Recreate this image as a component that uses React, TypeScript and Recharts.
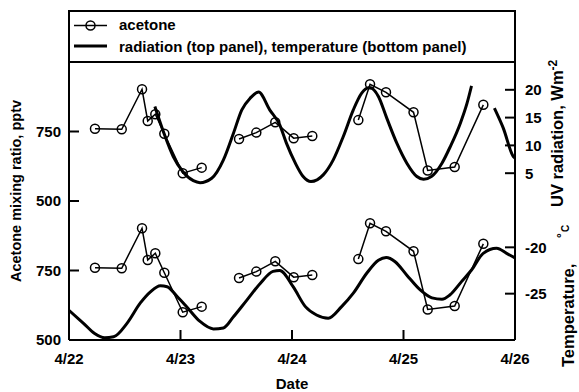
import React from 'react';
import { LineChart, Line, XAxis, YAxis } from 'recharts';

// ---------- data ----------
const dayTicks = [22, 23, 24, 25, 26];
const dayTickLabels = ['4/22', '4/23', '4/24', '4/25', '4/26'];
const acetoneTicks = [500, 750];
const radiationTicks = [5, 10, 15, 20];
const temperatureTicks = [-25, -20];

const acetoneDays = [22.233, 22.473, 22.655, 22.706, 22.774, 22.855, 23.02, 23.19,
  23.525, 23.68, 23.85, 24.015, 24.182,
  24.595, 24.7, 24.843, 25.09, 25.217, 25.459, 25.716];
const acetonePptv = [760, 758, 902, 788, 812, 742, 600, 620,
  723, 746, 783, 726, 734,
  791, 920, 891, 819, 610, 622, 846];
const acetoneRunStarts = [0, 8, 13];

const radiationDays = [22.77, 22.855, 22.935, 23.02, 23.115, 23.175, 23.28, 23.385, 23.475, 23.55,
  23.625, 23.7, 23.8, 23.89, 23.95, 24.03, 24.1, 24.17, 24.28, 24.37,
  24.46, 24.55, 24.625, 24.695, 24.775, 24.85, 24.94, 25.03, 25.12, 25.18,
  25.25, 25.345, 25.42, 25.51, 25.57, 25.61,
  25.815, 25.895, 25.985, 26.0];
const radiationWm2 = [17.0, 12.0, 8.0, 5.3, 3.65, 3.3, 4.1, 7.4, 12.2, 16.4,
  18.5, 19.6, 16.4, 13.7, 10.4, 6.8, 4.4, 3.5, 4.7, 7.4,
  11.6, 16.4, 19.4, 20.4, 18.8, 14.9, 10.4, 6.8, 4.4, 3.9,
  4.4, 6.8, 9.8, 14.0, 17.6, 20.7,
  16.7, 13.1, 8.0, 7.7];
const radiationRunStarts = [0, 36];

const temperatureDays = [22.0, 22.13, 22.23, 22.32, 22.4, 22.52, 22.64, 22.73, 22.82, 22.88,
  22.97, 23.055, 23.175, 23.295, 23.385, 23.475, 23.595, 23.715, 23.83, 23.89,
  24.01, 24.12, 24.22, 24.325, 24.445, 24.55, 24.67, 24.775, 24.845, 24.925,
  25.03, 25.15, 25.255, 25.345, 25.415, 25.52, 25.61, 25.715, 25.835, 25.925, 26.0];
const temperatureC = [-26.8, -28.2, -29.3, -29.75, -29.65, -28.2, -26.0, -24.8, -24.15, -24.25,
  -25.3, -26.4, -28.0, -28.8, -28.7, -27.5, -25.7, -23.9, -22.6, -22.5,
  -24.25, -26.4, -27.3, -27.65, -26.4, -24.95, -22.8, -21.4, -21.1, -21.55,
  -23.0, -24.6, -25.45, -25.6, -25.15, -23.7, -22.45, -20.65, -20.1, -20.65, -21.15];

// ---------- helpers ----------
type Row = { day: number; v: number };
function toRuns(days: number[], vals: number[], starts: number[]): Row[][] {
  return starts.map((s, i) => {
    const e = i + 1 < starts.length ? starts[i + 1] : days.length;
    return days.slice(s, e).map((d, j) => ({ day: d, v: vals[s + j] }));
  });
}
const acetoneRuns = toRuns(acetoneDays, acetonePptv, acetoneRunStarts);
const radiationRuns = toRuns(radiationDays, radiationWm2, radiationRunStarts);
const temperatureRuns = toRuns(temperatureDays, temperatureC, [0]);

const W = 579;
const H = 392;
const FONT = '"Liberation Sans", Arial, Helvetica, sans-serif';
const AXIS = { stroke: '#000', strokeWidth: 2 };
const TICK_LEN = 10;

const LeftTick = (p: any) => (
  <g>
    <line x1={p.x + 8} x2={p.x + 8 + TICK_LEN} y1={p.y} y2={p.y} stroke="#000" strokeWidth={2} />
    <text x={p.x} y={p.y + 5.4} textAnchor="end" fontFamily={FONT} fontWeight="bold" fontSize={15} fill="#000">
      {p.payload.value}
    </text>
  </g>
);
const RightTick = (p: any) => (
  <g>
    <line x1={p.x - 10} x2={p.x - 10 - TICK_LEN} y1={p.y} y2={p.y} stroke="#000" strokeWidth={2} />
    <text x={p.x} y={p.y + 5.4} textAnchor="start" fontFamily={FONT} fontWeight="bold" fontSize={15} fill="#000">
      {p.payload.value}
    </text>
  </g>
);
const BottomTick = (p: any) => (
  <g>
    <line x1={p.x} x2={p.x} y1={p.y} y2={p.y - TICK_LEN} stroke="#000" strokeWidth={2} />
    <text x={p.x} y={p.y + 24} textAnchor="middle" fontFamily={FONT} fontWeight="bold" fontSize={15} fill="#000">
      {dayTickLabels[dayTicks.indexOf(p.payload.value)]}
    </text>
  </g>
);

const acetoneDot = { r: 4.5, stroke: '#000', strokeWidth: 1.5, fill: 'none' };

function xAxes(withLabels: boolean) {
  return [
    <XAxis key="xb" xAxisId="b" dataKey="day" type="number" domain={[22, 26]} allowDataOverflow
      ticks={dayTicks} interval={0} height={withLabels ? 30 : 0} tickSize={0} tickMargin={0}
      tickLine={false} axisLine={AXIS}
      tick={withLabels ? (p: any) => <BottomTick {...p} /> : false} />,
    <XAxis key="xt" xAxisId="t" orientation="top" dataKey="day" type="number" domain={[22, 26]}
      allowDataOverflow height={0} tick={false} tickLine={false} axisLine={AXIS} />,
  ];
}

export default function App() {
  return (
    <div style={{ position: 'absolute', left: 0, top: 0, width: W, height: H, background: '#fff' }}>
      {/* top panel: acetone + UV radiation */}
      <div style={{ position: 'absolute', left: 0, top: 0 }}>
        <LineChart width={W} height={H} margin={{ top: 62, right: 4, bottom: 191, left: 9 }}>
          {xAxes(false)}
          <YAxis yAxisId="ac" orientation="left" type="number" domain={[500, 1000]} allowDataOverflow
            ticks={acetoneTicks} interval={0} width={60} tickSize={0} tickMargin={8} tickLine={false}
            axisLine={AXIS} tick={(p: any) => <LeftTick {...p} />} />
          <YAxis yAxisId="r" orientation="right" type="number" domain={[0, 25]} allowDataOverflow
            ticks={radiationTicks} interval={0} width={60} tickSize={0} tickMargin={10} tickLine={false}
            axisLine={AXIS} tick={(p: any) => <RightTick {...p} />} />
          {acetoneRuns.map((run, i) => (
            <Line key={'a' + i} data={run} dataKey="v" xAxisId="b" yAxisId="ac" type="linear"
              stroke="#000" strokeWidth={1.5} dot={acetoneDot} isAnimationActive={false} />
          ))}
          {radiationRuns.map((run, i) => (
            <Line key={'r' + i} data={run} dataKey="v" xAxisId="b" yAxisId="r" type="monotone"
              stroke="#000" strokeWidth={3} dot={false} isAnimationActive={false} />
          ))}
        </LineChart>
      </div>
      {/* bottom panel: acetone + temperature */}
      <div style={{ position: 'absolute', left: 0, top: 0 }}>
        <LineChart width={W} height={H} margin={{ top: 201, right: 4, bottom: 22, left: 9 }}>
          {xAxes(true)}
          <YAxis yAxisId="ac" orientation="left" type="number" domain={[500, 1000]} allowDataOverflow
            ticks={acetoneTicks} interval={0} width={60} tickSize={0} tickMargin={8} tickLine={false}
            axisLine={AXIS} tick={(p: any) => <LeftTick {...p} />} />
          <YAxis yAxisId="t" orientation="right" type="number" domain={[-30, -15]} allowDataOverflow
            ticks={temperatureTicks} interval={0} width={60} tickSize={0} tickMargin={10} tickLine={false}
            axisLine={AXIS} tick={(p: any) => <RightTick {...p} />} />
          {acetoneRuns.map((run, i) => (
            <Line key={'a' + i} data={run} dataKey="v" xAxisId="b" yAxisId="ac" type="linear"
              stroke="#000" strokeWidth={1.5} dot={acetoneDot} isAnimationActive={false} />
          ))}
          {temperatureRuns.map((run, i) => (
            <Line key={'t' + i} data={run} dataKey="v" xAxisId="b" yAxisId="t" type="monotone"
              stroke="#000" strokeWidth={3} dot={false} isAnimationActive={false} />
          ))}
        </LineChart>
      </div>
      {/* legend and axis titles */}
      <svg width={W} height={H} style={{ position: 'absolute', left: 0, top: 0, pointerEvents: 'none' }}
        fontFamily={FONT} fontWeight="bold" fill="#000">
        <rect x={69} y={11} width={446} height={51} fill="none" stroke="#000" strokeWidth={2} />
        <line x1={74} x2={107} y1={25.5} y2={25.5} stroke="#000" strokeWidth={1.5} />
        <circle cx={90.5} cy={25.5} r={4.5} fill="none" stroke="#000" strokeWidth={1.5} />
        <text x={119} y={30} fontSize={15}>acetone</text>
        <line x1={74} x2={107} y1={46} y2={46} stroke="#000" strokeWidth={3} />
        <text x={119} y={51.5} fontSize={15}>radiation (top panel), temperature (bottom panel)</text>

        <text transform="translate(20.5,191) rotate(-90)" textAnchor="middle" fontSize={14.5}>
          Acetone mixing ratio, pptv
        </text>
        <text x={292} y={389} textAnchor="middle" fontSize={15}>Date</text>

        <text transform="translate(574,367) rotate(-90)" fontSize={16.5}>Temperature,</text>
        <text transform="translate(566,238) rotate(-90)" fontSize={12}>°</text>
        <text transform="translate(568.5,232) rotate(-90)" fontSize={10}>C</text>
        <text transform="translate(563,207) rotate(-90)" fontSize={16.5}>
          UV radiation, Wm<tspan dy={-6} fontSize={12}>-2</tspan>
        </text>
      </svg>
    </div>
  );
}
